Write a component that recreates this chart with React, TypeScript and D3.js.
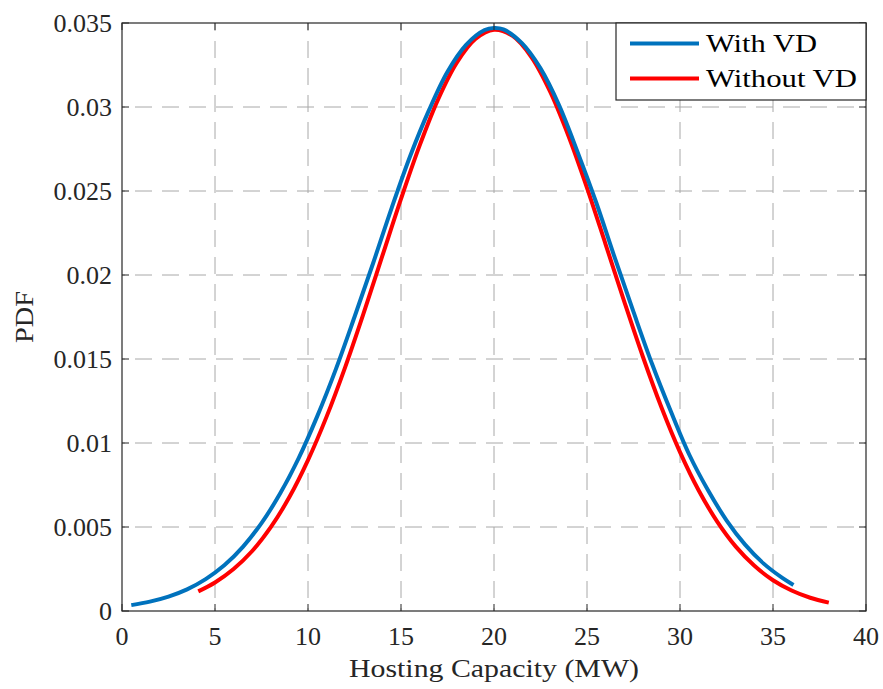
import React from "react";
import * as d3 from "d3";

const xTicks = [0, 5, 10, 15, 20, 25, 30, 35, 40];
const yTicks = [0, 0.005, 0.01, 0.015, 0.02, 0.025, 0.03, 0.035];
const yTickLabels = ["0", "0.005", "0.01", "0.015", "0.02", "0.025", "0.03", "0.035"];

const blueX = [0.5, 1.5, 2.5, 3.5, 4.5, 5.5, 6.5, 7.5, 8.5, 9.5, 10.5, 11.5, 12.5, 13.5, 14.5, 15.5, 16.5, 17.5, 18.5, 19.5, 20.0, 20.5, 21.5, 22.5, 23.5, 24.5, 25.5, 26.5, 27.5, 28.5, 29.5, 30.5, 31.5, 32.5, 33.5, 34.5, 35.5, 36.1];
const blueY = [0.00035, 0.00056, 0.00086, 0.00129, 0.0019, 0.00272, 0.00382, 0.00523, 0.00699, 0.0091, 0.0116, 0.0144, 0.0175, 0.0207, 0.024, 0.0271, 0.0298, 0.0321, 0.0337, 0.03458, 0.0347, 0.03462, 0.0338, 0.0323, 0.0301, 0.0273, 0.0243, 0.021, 0.0178, 0.0147, 0.0119, 0.0093, 0.0072, 0.0054, 0.00395, 0.00282, 0.00197, 0.00155];

const redX = [4.1, 5, 6, 7, 8, 9, 10, 11, 12, 13, 14, 15, 16, 17, 18, 19, 20, 21, 22, 23, 24, 25, 26, 27, 28, 29, 30, 31, 32, 33, 34, 35, 36, 37, 38];
const redY = [0.00117, 0.0017, 0.0025, 0.00357, 0.00499, 0.00678, 0.00898, 0.01157, 0.01452, 0.01776, 0.02115, 0.02453, 0.0277, 0.03047, 0.03264, 0.03405, 0.0346, 0.03423, 0.03299, 0.03096, 0.02829, 0.02519, 0.02183, 0.01843, 0.01515, 0.01213, 0.00946, 0.00719, 0.00532, 0.00383, 0.00269, 0.00183, 0.00122, 0.00079, 0.0005];

const seriesNames = ["With VD", "Without VD"];
const seriesColors = ["#0072BD", "#FF0000"];

const W = 883, H = 689;
const L = 122, T = 23, R = 866, B = 611;
const FONT = "'Liberation Serif', 'Times New Roman', serif";

export default function App() {
  const x = d3.scaleLinear().domain([0, 40]).range([L, R]);
  const y = d3.scaleLinear().domain([0, 0.035]).range([B, T]);
  const line = d3.line<[number, number]>().x(d => x(d[0])).y(d => y(d[1])).curve(d3.curveCatmullRom);
  const blue = line(blueX.map((v, i) => [v, blueY[i]]) as [number, number][]) || "";
  const red = line(redX.map((v, i) => [v, redY[i]]) as [number, number][]) || "";
  const tl = 7;
  const axisColor = "#262626";
  const gridColor = "#a8a8a8";
  return (
    <svg width={W} height={H} style={{ display: "block", position: "absolute", left: 0, top: 0, background: "#fff" }}>
      <rect x={0} y={0} width={W} height={H} fill="#fff" />
      {/* grid */}
      {xTicks.slice(1, -1).map(t => (
        <line key={"gx" + t} x1={x(t)} x2={x(t)} y1={B} y2={T} stroke={gridColor} strokeWidth={1} strokeDasharray="17,10" strokeDashoffset={14} />
      ))}
      {yTicks.slice(1, -1).map(t => (
        <line key={"gy" + t} x1={L} x2={R} y1={y(t)} y2={y(t)} stroke={gridColor} strokeWidth={1} strokeDasharray="17,10" strokeDashoffset={14} />
      ))}
      {/* curves */}
      <path d={red} fill="none" stroke={seriesColors[1]} strokeWidth={4} />
      <path d={blue} fill="none" stroke={seriesColors[0]} strokeWidth={4} />
      {/* axes box */}
      <rect x={L} y={T} width={R - L} height={B - T} fill="none" stroke={axisColor} strokeWidth={1.2} />
      {xTicks.map(t => (
        <g key={"tx" + t}>
          <line x1={x(t)} x2={x(t)} y1={B} y2={B - tl} stroke={axisColor} strokeWidth={1} />
          <line x1={x(t)} x2={x(t)} y1={T} y2={T + tl} stroke={axisColor} strokeWidth={1} />
          <text x={x(t)} y={645} textAnchor="middle" fontFamily={FONT} fontSize={26} fill="#262626">{t}</text>
        </g>
      ))}
      {yTicks.map((t, i) => (
        <g key={"ty" + t}>
          <line x1={L} x2={L + tl} y1={y(t)} y2={y(t)} stroke={axisColor} strokeWidth={1} />
          <line x1={R} x2={R - tl} y1={y(t)} y2={y(t)} stroke={axisColor} strokeWidth={1} />
          <text x={112} y={y(t) + 8.5} textAnchor="end" fontFamily={FONT} fontSize={26} fill="#262626">{yTickLabels[i]}</text>
        </g>
      ))}
      {/* axis labels */}
      <text x={(L + R) / 2} y={677} textAnchor="middle" fontFamily={FONT} fontSize={26} fill="#262626" textLength={290} lengthAdjust="spacingAndGlyphs">Hosting Capacity (MW)</text>
      <text transform={`translate(33, ${(T + B) / 2}) rotate(-90)`} textAnchor="middle" fontFamily={FONT} fontSize={26} fill="#262626" textLength={52} lengthAdjust="spacingAndGlyphs">PDF</text>
      {/* legend */}
      <rect x={616} y={T} width={R - 616} height={77} fill="#fff" stroke={axisColor} strokeWidth={1.2} />
      {seriesNames.map((n, i) => (
        <g key={n}>
          <line x1={630} x2={699} y1={43.5 + i * 35} y2={43.5 + i * 35} stroke={seriesColors[i]} strokeWidth={4} />
          <text x={706} y={52 + i * 35} fontFamily={FONT} fontSize={26} fill="#000" textLength={i === 0 ? 111 : 151} lengthAdjust="spacingAndGlyphs">{n}</text>
        </g>
      ))}
    </svg>
  );
}
